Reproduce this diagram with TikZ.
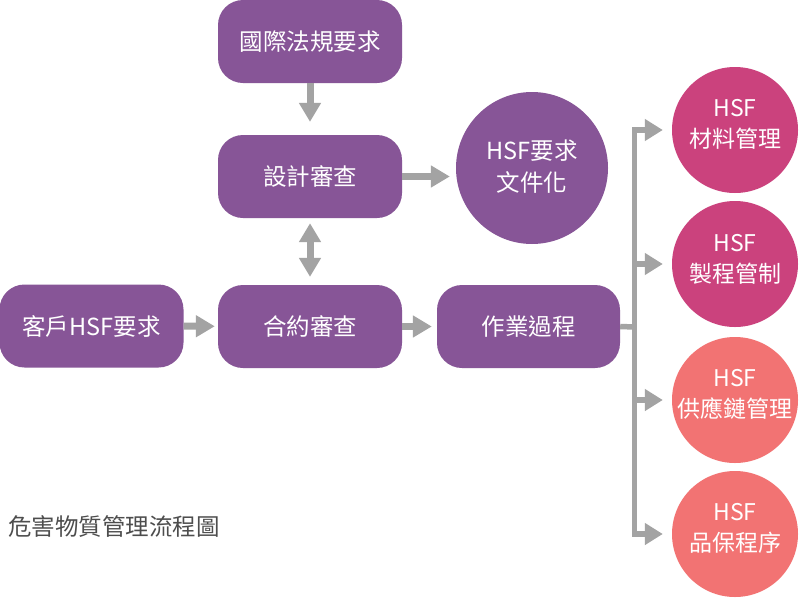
\documentclass[tikz,border=0pt]{standalone}
\usepackage{fontspec}
\setmainfont{Noto Sans CJK TC}
\usetikzlibrary{arrows.meta}
\definecolor{purp}{HTML}{875597}
\definecolor{mag}{HTML}{CB427D}
\definecolor{sal}{HTML}{F27373}
\definecolor{arr}{HTML}{A3A3A3}
\definecolor{ttl}{HTML}{4D4D4D}
\begin{document}
\begin{tikzpicture}[x=1pt,y=-1pt,
  box/.style={rectangle, rounded corners=25pt, fill=purp, text=white, minimum width=184pt, minimum height=83pt, inner sep=0pt, font=\fontsize{23.5}{30}\selectfont},
  circ/.style={circle, fill=#1, minimum size=126pt, inner sep=0pt},
  ctext/.style={text=white, align=center, inner sep=0pt, font=\fontsize{23}{31}\selectfont},
  conn/.style={draw=arr, line width=7pt, -{Triangle[width=21pt,length=19pt]}},
  dconn/.style={draw=arr, line width=7pt, {Triangle[width=21pt,length=19pt]}-{Triangle[width=21pt,length=19pt]}},
  bline/.style={draw=arr, line width=5.5pt},
  barr/.style={draw=arr, line width=5.5pt, -{Triangle[width=21pt,length=18pt]}},
]
\useasboundingbox[fill=white] (0,0) rectangle (800,600);
\node[box] (intl) at (310,41.5) {國際法規要求};
\node[box] (design) at (310,176.5) {設計審查};
\node[box] (contract) at (310,326.5) {合約審查};
\node[box, minimum width=183pt] (ops) at (528.5,326.5) {作業過程};
\node[box, minimum width=184pt] (cust) at (91.5,326) {客戶HSF要求};
\node[circ=purp, minimum size=152pt, label={[ctext, font=\fontsize{23.5}{32}\selectfont, yshift=1pt]center:{HSF要求\\文件化}}] (doc) at (532,168) {};
\node[circ=mag, label={[ctext, yshift=6pt]center:{HSF\\材料管理}}] (c1) at (735,130) {};
\node[circ=mag, label={[ctext, yshift=5pt]center:{HSF\\製程管制}}] (c2) at (735,264) {};
\node[circ=sal, label={[ctext, yshift=6pt]center:{HSF\\供應鏈管理}}] (c3) at (735,400) {};
\node[circ=sal, label={[ctext, yshift=6pt]center:{HSF\\品保程序}}] (c4) at (735,534) {};
\node[anchor=west, text=ttl, inner sep=0pt, font=\fontsize{23.5}{26}\selectfont] (title) at (8,527) {危害物質管理流程圖};

\draw[conn, shorten >=13pt] (intl) -- (design);
\draw[dconn, shorten <=5pt, shorten >=8pt] (design) -- (contract);
\draw[conn, shorten >=6pt] (design.east) -- (design.east -| doc.west);
\draw[conn, shorten >=3pt] (cust) -- (contract);
\draw[conn, shorten >=5pt] (contract) -- (ops);
\coordinate (bj) at (634.5,327);
\draw[bline] (ops.east) -- (bj);
\draw[bline, line cap=rect] (bj |- c1) -- (bj |- c4);
\draw[barr] (bj |- c1) -- ([xshift=-9pt]c1.west);
\draw[barr] (bj |- c2) -- ([xshift=-9pt]c2.west);
\draw[barr] (bj |- c3) -- ([xshift=-9pt]c3.west);
\draw[barr] (bj |- c4) -- ([xshift=-9pt]c4.west);
\end{tikzpicture}
\end{document}
